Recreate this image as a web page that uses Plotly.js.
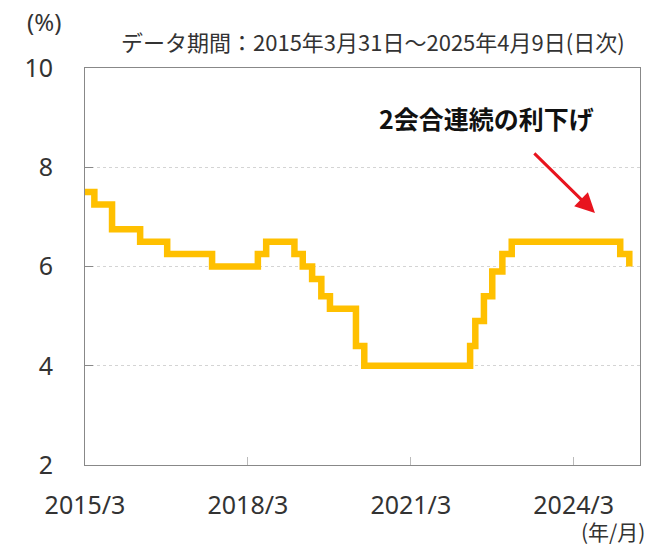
<!DOCTYPE html>
<html>
<head>
<meta charset="utf-8">
<script src="https://cdn.plot.ly/plotly-3.0.1.min.js"></script>
<style>html,body{margin:0;padding:0;background:#fff;}#chart{width:651px;height:546px;}</style>
</head>
<body>
<div id="chart"></div>
<script>
const dates = ["2015-03-31","2015-06-02","2015-09-29","2016-04-05","2016-10-04","2017-08-02","2018-06-06","2018-08-01","2019-02-07","2019-04-04","2019-06-06","2019-08-07","2019-10-04","2020-03-27","2020-05-22","2022-05-04","2022-06-08","2022-08-05","2022-09-30","2022-12-07","2023-02-08","2025-02-07","2025-04-09"];
const rates = [7.50,7.25,6.75,6.50,6.25,6.00,6.25,6.50,6.25,6.00,5.75,5.40,5.15,4.40,4.00,4.40,4.90,5.40,5.90,6.25,6.50,6.25,6.00];
const tickDates = ["2015-03-31","2018-03-31","2021-03-31","2024-03-31"];
const tickLabels = ["2015/3","2018/3","2021/3","2024/3"];
const yTicks = [2,4,6,8,10];

const FONT = "Noto Sans, Noto Sans CJK JP, sans-serif";
const CJK = "Noto Sans CJK JP, Noto Sans, sans-serif";
const TXT = "#333";

const trace = {
  x: dates, y: rates, type: "scatter", mode: "lines",
  line: {shape: "hv", color: "#FFC000", width: 6.5},
  hoverinfo: "skip"
};

const layout = {
  width: 651, height: 546,
  margin: {l: 85, r: 11, t: 68, b: 81},
  paper_bgcolor: "#fff", plot_bgcolor: "#fff",
  showlegend: false,
  font: {family: FONT, color: TXT},
  xaxis: {
    type: "date",
    range: ["2015-03-31", "2025-06-20"],
    tickvals: tickDates, ticktext: tickLabels,
    ticks: "inside", ticklen: 8, tickcolor: "#bbb", tickwidth: 1,
    showgrid: false, zeroline: false,
    showline: true, linecolor: "#888", linewidth: 1, mirror: true,
    tickfont: {size: 25, family: FONT, color: TXT},
    ticklabelstandoff: 18
  },
  yaxis: {
    range: [2, 10],
    tickvals: yTicks,
    ticks: "inside", ticklen: 8, tickcolor: "#888", tickwidth: 1,
    showgrid: true, gridcolor: "#d4d4d4", griddash: "dot", gridwidth: 1,
    zeroline: false,
    showline: true, linecolor: "#888", linewidth: 1, mirror: true,
    tickfont: {size: 25, family: FONT, color: TXT},
    ticklabelstandoff: 26
  },
  annotations: [
    {xref: "paper", yref: "paper", x: -0.074, y: 1.116, xanchor: "center", yanchor: "middle",
     text: "(%)", showarrow: false, font: {size: 24, family: FONT, color: TXT}},
    {xref: "paper", yref: "paper", x: 0.977, y: 1.068, xanchor: "right", yanchor: "middle",
     text: "データ期間：2015年3月31日～2025年4月9日(日次)", showarrow: false,
     font: {size: 22, family: CJK, color: TXT}},
    {xref: "paper", yref: "paper", x: 1.0126, y: -0.166, xanchor: "right", yanchor: "middle",
     text: "(年/月)", showarrow: false, font: {size: 21, family: CJK, color: TXT}},
    {xref: "x", yref: "y", x: "2022-08-20", y: 9.0, xanchor: "center", yanchor: "middle",
     text: "<b>2会合連続の利下げ</b>", showarrow: false, font: {size: 25, family: CJK, color: "#111"}},
    {xref: "x", yref: "y", axref: "x", ayref: "y",
     x: "2024-08-21", y: 7.08, ax: "2023-06-30", ay: 8.31,
     text: "", showarrow: true, arrowhead: 2, arrowsize: 1.3, arrowwidth: 3, arrowcolor: "#E8141E"}
  ]
};

Plotly.newPlot("chart", [trace], layout, {displayModeBar: false, staticPlot: true});
</script>
</body>
</html>
